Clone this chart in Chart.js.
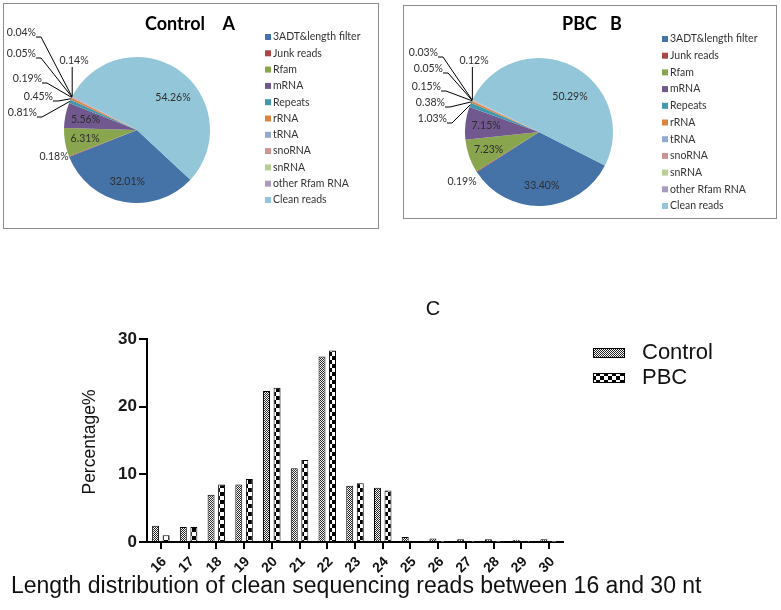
<!DOCTYPE html>
<html lang="en">
<head>
  <meta charset="UTF-8" />
  <title>Small RNA read composition</title>
  <script src="https://cdn.jsdelivr.net/npm/chart.js"></script>
  <style>
    body {
      margin: 0;
      background: #fff;
      width: 781px;
      height: 610px;
      position: relative;
      overflow: hidden;
    }
    .box {
      position: absolute;
      box-sizing: border-box;
      border: 1px solid #8c8c8c;
      background: #fff;
    }
    canvas {
      position: absolute;
    }
  </style>
</head>
<body>

  <div class="box" style="left:3px; top:3px; width:376px; height:226px;">
    <canvas id="pieA" width="374" height="224" style="left:0; top:0;"></canvas>
  </div>
  <div class="box" style="left:403px; top:5px; width:374px; height:214px;">
    <canvas id="pieB" width="372" height="212" style="left:0; top:0;"></canvas>
  </div>
  <canvas id="lengthChart" width="781" height="330" style="left:0; top:280px;"></canvas>

  <script>
    // pie categories (order as drawn, clockwise)
    const sliceNames = ["3ADT&length filter", "Junk reads", "Rfam", "mRNA", "Repeats", "rRNA",
                        "tRNA", "snoRNA", "snRNA", "other Rfam RNA", "Clean reads"];
    const sliceColors = ["#4572a7", "#aa4643", "#89a54e", "#71588f", "#4198af", "#db843d",
                         "#93a9cf", "#d19392", "#b9cd96", "#a99bbd", "#93c6d8"];
    const controlShares = [32.01, 0.18, 6.31, 5.56, 0.81, 0.45, 0.19, 0.05, 0.04, 0.14, 54.26];
    const pbcShares = [33.40, 0.19, 7.23, 7.15, 1.03, 0.38, 0.15, 0.05, 0.03, 0.12, 50.29];

    // length distribution
    const readLengths = ["16", "17", "18", "19", "20", "21", "22", "23", "24", "25", "26", "27", "28", "29", "30"];
    const controlPct = [2.4, 2.2, 7.0, 8.5, 22.3, 10.9, 27.4, 8.3, 8.0, 0.75, 0.5, 0.4, 0.4, 0.35, 0.4];
    const pbcPct = [1.0, 2.2, 8.5, 9.3, 22.8, 12.1, 28.3, 8.7, 7.6, 0.1, 0.03, 0.03, 0.03, 0.03, 0.03];
    const yTicks = [0, 10, 20, 30];

    const ARIAL = 'Arial, "Liberation Sans", sans-serif';
    const PIEFONT = 'Lato, "Open Sans", sans-serif';

    // label placement: [dx, dy from pie centre, kind]
    const calloutsA = {
      1: [-83, 27, "plain"],
      4: [-100, -17, "elbow"],
      5: [-84, -33, "elbow"],
      6: [-95, -51, "elbow"],
      7: [-101, -76, "elbow"],
      8: [-101, -97, "elbow"],
      9: [-63, -69, "drop"],
      10: [36, -32, "plain"]
    };
    const calloutsB = {
      1: [-77, 50, "plain"],
      4: [-92, -13, "elbow"],
      5: [-94, -29, "elbow"],
      6: [-98, -45, "elbow"],
      7: [-96, -63, "elbow"],
      8: [-101, -79, "elbow"],
      9: [-65, -71, "drop"],
      10: [31, -35, "plain"]
    };

    const pieDecor = {
      id: "pieDecor",
      afterDatasetsDraw(chart, args, opts) {
        const ctx = chart.ctx;
        const arcs = chart.getDatasetMeta(0).data;
        const values = chart.data.datasets[0].data;
        ctx.save();
        ctx.font = "10.5px " + PIEFONT;
        ctx.fillStyle = "#2e2e2e";
        ctx.strokeStyle = "#000";
        ctx.lineWidth = 1;
        ctx.textBaseline = "middle";
        arcs.forEach((arc, i) => {
          const p = arc.getProps(["x", "y", "startAngle", "endAngle", "outerRadius"], true);
          const mid = (p.startAngle + p.endAngle) / 2;
          const text = values[i].toFixed(2) + "%";
          const c = opts.callouts[i];
          if (!c) {
            const r = p.outerRadius * 0.72;
            ctx.textAlign = "center";
            ctx.fillText(text, p.x + Math.cos(mid) * r, p.y + Math.sin(mid) * r);
            return;
          }
          const lx = p.x + c[0], ly = p.y + c[1];
          const ex = p.x + Math.cos(mid) * p.outerRadius;
          const ey = p.y + Math.sin(mid) * p.outerRadius;
          if (c[2] === "elbow") {
            ctx.textAlign = "right";
            ctx.fillText(text, lx, ly);
            ctx.beginPath();
            ctx.moveTo(lx, ly + 4);
            ctx.lineTo(lx + 5, ly + 4);
            ctx.lineTo(ex, ey);
            ctx.stroke();
          } else if (c[2] === "drop") {
            ctx.textAlign = "center";
            ctx.fillText(text, lx, ly);
            ctx.beginPath();
            ctx.moveTo(ex, ly + 6);
            ctx.lineTo(ex, ey);
            ctx.stroke();
          } else {
            ctx.textAlign = "center";
            ctx.fillText(text, lx, ly);
          }
        });

        // title
        ctx.fillStyle = "#000";
        ctx.font = "bold 18px " + PIEFONT;
        ctx.textAlign = "center";
        ctx.fillText(opts.title, opts.titleX, opts.titleY);

        // legend
        ctx.font = "10.5px " + PIEFONT;
        ctx.textAlign = "left";
        chart.data.labels.forEach((name, i) => {
          const y = opts.legendTop + i * opts.legendGap;
          ctx.fillStyle = sliceColors[i];
          ctx.fillRect(opts.legendX, y - 3, 6, 6);
          ctx.fillStyle = "#333";
          ctx.fillText(name, opts.legendX + 8, y);
        });
        ctx.restore();
      }
    };

    function makePie(id, shares, rotation, padding, decor) {
      return new Chart(document.getElementById(id), {
        type: "pie",
        data: {
          labels: sliceNames,
          datasets: [{
            data: shares,
            backgroundColor: sliceColors,
            borderWidth: 0
          }]
        },
        options: {
          responsive: false,
          animation: false,
          events: [],
          rotation: rotation,
          layout: { padding: padding },
          plugins: {
            legend: { display: false },
            tooltip: { enabled: false },
            pieDecor: decor
          }
        },
        plugins: [pieDecor]
      });
    }

    makePie("pieA", controlShares, 133,
      { left: 60, top: 53, right: 168, bottom: 25 },
      { callouts: calloutsA, title: "Control    A", titleX: 186, titleY: 20,
        legendX: 261, legendTop: 33, legendGap: 16.3 });

    makePie("pieB", pbcShares, 117,
      { left: 61, top: 52, right: 163, bottom: 12 },
      { callouts: calloutsB, title: "PBC   B", titleX: 188, titleY: 18,
        legendX: 258, legendTop: 33, legendGap: 16.7 });

    // bar fill patterns
    function makePattern(size, draw) {
      const c = document.createElement("canvas");
      c.width = size;
      c.height = size;
      const g = c.getContext("2d");
      draw(g, size);
      return g.createPattern(c, "repeat");
    }
    const finePattern = makePattern(2, g => {
      g.fillStyle = "#fff";
      g.fillRect(0, 0, 2, 2);
      g.fillStyle = "#222";
      g.fillRect(0, 0, 1, 1);
      g.fillRect(1, 1, 1, 1);
    });
    const checkPattern = makePattern(8, g => {
      g.fillStyle = "#fff";
      g.fillRect(0, 0, 8, 8);
      g.fillStyle = "#000";
      g.fillRect(0, 0, 4, 4);
      g.fillRect(4, 4, 4, 4);
    });

    const barDecor = {
      id: "barDecor",
      afterDraw(chart) {
        const ctx = chart.ctx;
        const xs = chart.scales.x;
        ctx.save();
        ctx.fillStyle = "#111";

        // rotated length labels
        ctx.font = "bold 14px " + ARIAL;
        ctx.textAlign = "center";
        ctx.textBaseline = "middle";
        readLengths.forEach((lab, i) => {
          ctx.save();
          ctx.translate(xs.getPixelForTick(i) - 2, 285);
          ctx.rotate(-Math.PI / 4);
          ctx.fillText(lab, 0, 0);
          ctx.restore();
        });

        // y title
        ctx.save();
        ctx.translate(90, 162);
        ctx.rotate(-Math.PI / 2);
        ctx.font = "17.5px " + ARIAL;
        ctx.fillText("Percentage%", 0, 0);
        ctx.restore();

        // panel letter
        ctx.font = "20px " + ARIAL;
        ctx.fillText("C", 433, 29);

        // legend
        const items = [["Control", finePattern, 68], ["PBC", checkPattern, 93]];
        ctx.textAlign = "left";
        ctx.font = "22px " + ARIAL;
        items.forEach(([name, pat, y]) => {
          ctx.fillStyle = pat;
          ctx.fillRect(593, y, 32, 10);
          ctx.strokeStyle = "#000";
          ctx.lineWidth = 1;
          ctx.strokeRect(593.5, y + 0.5, 31, 9);
          ctx.fillStyle = "#111";
          ctx.fillText(name, 642, y + 5);
        });

        // caption
        ctx.font = "23px " + ARIAL;
        ctx.fillText("Length distribution of clean sequencing reads between 16 and 30 nt", 11, 307);
        ctx.restore();
      }
    };

    new Chart(document.getElementById("lengthChart"), {
      type: "bar",
      data: {
        labels: readLengths,
        datasets: [
          {
            label: "Control",
            data: controlPct,
            backgroundColor: finePattern,
            borderColor: "#000",
            borderWidth: 1,
            categoryPercentage: 0.76,
            barPercentage: 0.66
          },
          {
            label: "PBC",
            data: pbcPct,
            backgroundColor: checkPattern,
            borderColor: "#000",
            borderWidth: 1,
            categoryPercentage: 0.76,
            barPercentage: 0.66
          }
        ]
      },
      options: {
        responsive: false,
        animation: false,
        events: [],
        layout: { padding: { left: 0, top: 59, right: 218, bottom: 0 } },
        plugins: {
          legend: { display: false },
          tooltip: { enabled: false }
        },
        scales: {
          x: {
            offset: true,
            grid: { offset: false, drawOnChartArea: false, tickLength: 7, color: "#000", lineWidth: 2 },
            border: { color: "#000", width: 2 },
            ticks: { display: false },
            afterFit(scale) { scale.height = 68; }
          },
          y: {
            min: 0,
            max: 30,
            afterBuildTicks(scale) { scale.ticks = yTicks.map(v => ({ value: v })); },
            grid: { drawOnChartArea: false, tickLength: 8, color: "#000", lineWidth: 2 },
            border: { color: "#000", width: 2 },
            ticks: {
              padding: 2,
              color: "#1a1a1a",
              font: { family: ARIAL, size: 17, weight: "bold" }
            },
            afterFit(scale) { scale.width = 147; }
          }
        }
      },
      plugins: [barDecor]
    });
  </script>
</body>
</html>
